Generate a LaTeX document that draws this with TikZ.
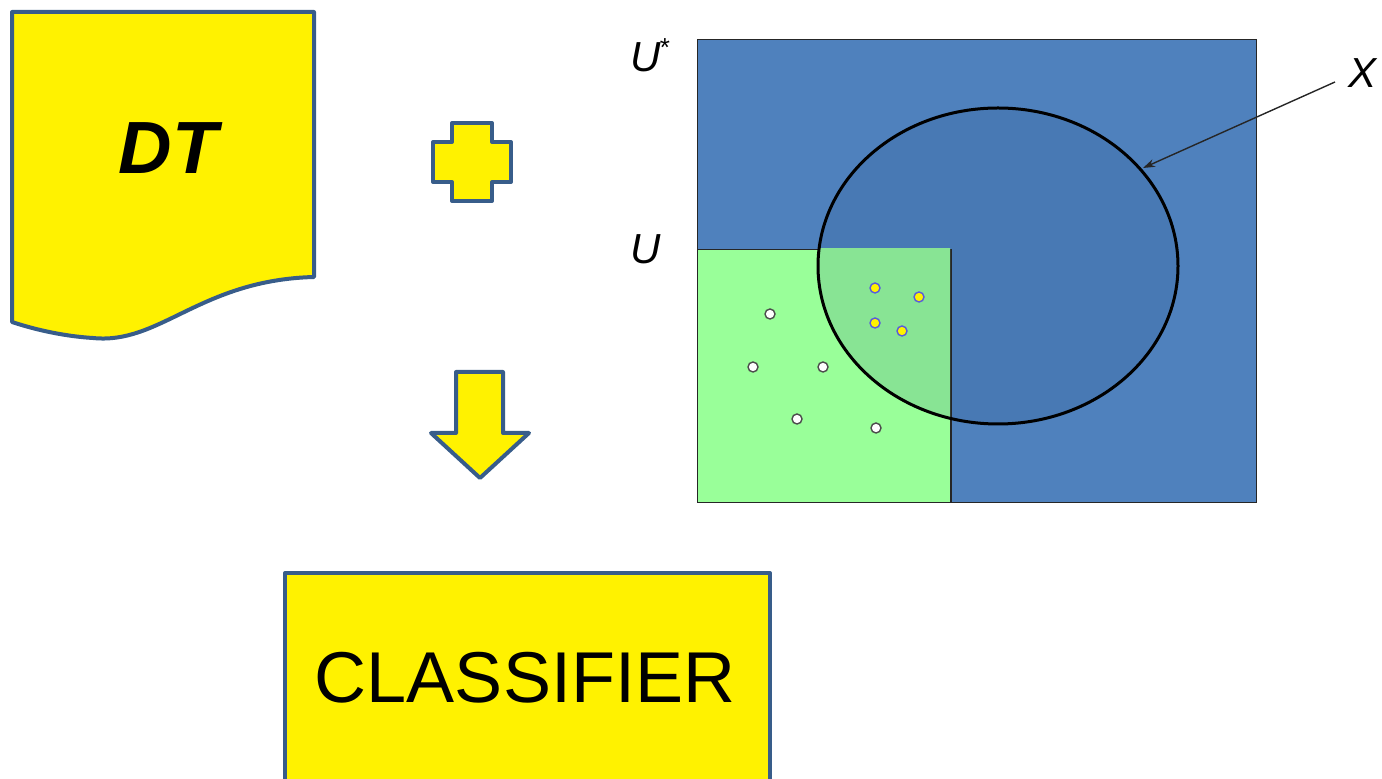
\documentclass[tikz,border=0pt]{standalone}
\usepackage{fontspec}
\setmainfont{Liberation Sans}
\usetikzlibrary{arrows.meta}
\definecolor{edgeblue}{RGB}{56,93,138}
\definecolor{setblue}{RGB}{79,129,189}
\definecolor{setgreen}{RGB}{153,255,153}
\definecolor{innerblue}{RGB}{72,121,180}
\definecolor{innergreen}{RGB}{136,228,148}
\definecolor{dotring}{RGB}{90,90,220}
\tikzset{
  yellowshape/.style={fill=yellow, draw=edgeblue, line width=2pt, line join=round},
  setlabel/.style={font=\fontsize{21}{21}\selectfont\itshape, inner sep=0pt},
  plaindot/.style={circle, fill=white, draw=black!70, line width=0.7pt, minimum size=5pt, inner sep=0pt},
  hitdot/.style={circle, fill=yellow, draw=dotring, line width=0.7pt, minimum size=5pt, inner sep=0pt},
}
\begin{document}
\begin{tikzpicture}[x=0.5pt, y=-0.5pt]
\useasboundingbox (0,0) rectangle (1382,779);

% document shape with the data table
\draw[yellowshape] (12,12) -- (314,12) -- (314,277)
  .. controls (200,280) and (160,345) .. (93,338)
  .. controls (60,336) and (30,328) .. (12,322) -- cycle;
\node[font=\fontsize{37}{37}\selectfont\bfseries\itshape] (dt) at (168,148) {DT};

% plus sign
\draw[yellowshape] (452,123) -- (492,123) -- (492,142) -- (511,142) -- (511,182)
  -- (492,182) -- (492,201) -- (452,201) -- (452,182) -- (433,182) -- (433,142)
  -- (452,142) -- cycle;
\coordinate (plus) at (472,162);

% downward arrow
\draw[yellowshape] (456,372) -- (503,372) -- (503,433) -- (529,433) -- (480,478)
  -- (431,433) -- (456,433) -- cycle;
\coordinate (down) at (480,420);

% classifier box
\node[yellowshape, anchor=north west, minimum width=242.5pt, minimum height=110pt,
  inner sep=0pt] (box) at (283,571) {};
\node[font=\fontsize{36}{36}\selectfont] (cls) at (525,678) {CLASSIFIER};

% universe U*
\node[fill=setblue, draw=black!85, line width=0.6pt, anchor=north west,
  minimum width=279.5pt, minimum height=231.5pt, inner sep=0pt] (ustar) at (697,39) {};

% concept X, shaded inside the universe
\fill[innerblue] (998,266) ellipse [x radius=180, y radius=158];

% labelled subset U, shaded where it meets X
\node[fill=setgreen, draw=black!85, line width=0.6pt, anchor=north west,
  minimum width=126.5pt, minimum height=126.5pt, inner sep=0pt] (u) at (697,249) {};
\begin{scope}
  \clip (697,249) rectangle (950,502);
  \fill[innergreen] (998,266) ellipse [x radius=180, y radius=158];
\end{scope}
\draw[black!85, line width=0.6pt] (u.north east) -- (u.south east);

\draw[black, line width=1.5pt] (998,266) ellipse [x radius=180, y radius=158];
\coordinate (xedge) at (1143,168);

% labelled examples
\foreach \p/\q [count=\i] in {770/314, 753/367, 823/367, 797/419, 876/428}
  \node[plaindot] (w\i) at (\p,\q) {};
\foreach \p/\q [count=\i] in {875/288, 919/297, 875/323, 902/331}
  \node[hitdot] (y\i) at (\p,\q) {};

% labels
\node[setlabel] (lus) at (646,57) {U};
\node[font=\fontsize{13}{13}\selectfont, inner sep=0pt] (star) at (665,48) {*};
\node[setlabel] (lu) at (646,249) {U};
\node[setlabel] (lx) at (1362,73) {X};
\coordinate (xstart) at (1335,82);
\draw[black!85, line width=0.7pt, -{Stealth[length=6pt, width=4pt]}] (xstart) -- (xedge);
\end{tikzpicture}
\end{document}
